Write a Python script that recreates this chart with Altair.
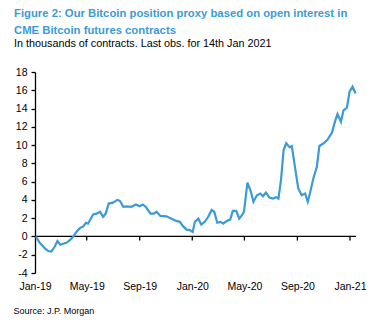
import altair as alt
import pandas as pd

dates = [
    "2019-01-03", "2019-01-12", "2019-01-24", "2019-02-01", "2019-02-08", "2019-02-16",
    "2019-02-22", "2019-03-01", "2019-03-07", "2019-03-15", "2019-03-23", "2019-03-31",
    "2019-04-07", "2019-04-15", "2019-04-23", "2019-04-29", "2019-05-04", "2019-05-11",
    "2019-05-16", "2019-05-24", "2019-06-01", "2019-06-08", "2019-06-14", "2019-06-21",
    "2019-07-01", "2019-07-11", "2019-07-17", "2019-07-25", "2019-08-01", "2019-08-13",
    "2019-08-23", "2019-09-01", "2019-09-08", "2019-09-15", "2019-09-26", "2019-10-04",
    "2019-10-10", "2019-10-19", "2019-11-02", "2019-11-14", "2019-11-25", "2019-12-03",
    "2019-12-11", "2019-12-19", "2019-12-26", "2020-01-02", "2020-01-07", "2020-01-15",
    "2020-01-22", "2020-01-30", "2020-02-07", "2020-02-15", "2020-02-21", "2020-02-28",
    "2020-03-07", "2020-03-13", "2020-03-21", "2020-03-29", "2020-04-04", "2020-04-12",
    "2020-04-19", "2020-04-25", "2020-04-30", "2020-05-08", "2020-05-16", "2020-05-22",
    "2020-05-30", "2020-06-07", "2020-06-13", "2020-06-20", "2020-06-28", "2020-07-06",
    "2020-07-14", "2020-07-19", "2020-07-25", "2020-07-31", "2020-08-06", "2020-08-14",
    "2020-08-19", "2020-08-27", "2020-09-03", "2020-09-11", "2020-09-19", "2020-09-25",
    "2020-09-30", "2020-10-08", "2020-10-16", "2020-10-22", "2020-11-01", "2020-11-10",
    "2020-11-20", "2020-11-28", "2020-12-03", "2020-12-11", "2020-12-17", "2020-12-25",
    "2020-12-31", "2021-01-07", "2021-01-14",
]
values = [
    0.0, -0.7, -1.3, -1.6, -1.65, -1.1,
    -0.5, -0.9, -0.8, -0.7, -0.4, 0.0,
    0.5, 0.9, 1.1, 1.5, 1.4, 2.0,
    2.4, 2.5, 2.7, 2.15, 2.5, 3.6,
    3.7, 4.0, 3.9, 3.25, 3.3, 3.25,
    3.5, 3.3, 3.5, 3.25, 2.5, 2.5,
    2.7, 2.25, 2.2, 1.95, 1.7, 1.6,
    1.1, 0.75, 0.7, 0.5, 1.6, 1.95,
    1.3, 1.6, 2.15, 2.9, 2.7, 1.5,
    1.6, 1.4, 1.7, 1.85, 2.8, 2.8,
    1.95, 2.3, 2.7, 5.9, 4.9, 3.8,
    4.5, 4.7, 4.4, 4.8, 4.25, 4.15,
    4.3, 4.15, 6.2, 9.45, 10.2, 9.75,
    9.9, 7.4, 5.25, 4.5, 4.7, 3.8,
    4.7, 6.35, 7.6, 9.9, 10.2, 10.6,
    11.35, 12.7, 13.4, 12.55, 13.8, 14.1,
    15.85, 16.4, 15.65,
]
tick_dates = ["2019-01-01", "2019-05-01", "2019-09-01", "2020-01-01",
              "2020-05-01", "2020-09-01", "2021-01-01"]
y_ticks = [-4, -2, 0, 2, 4, 6, 8, 10, 12, 14, 16, 18]

title_lines = ["Figure 2: Our Bitcoin position proxy based on open interest in",
               "CME Bitcoin futures contracts"]
subtitle = "In thousands of contracts. Last obs. for 14th Jan 2021"
source = "Source: J.P. Morgan"

df = pd.DataFrame({"date": pd.to_datetime(dates), "value": values})
ticks_df = pd.DataFrame({"date": pd.to_datetime(tick_dates[1:])})

FONT = "Liberation Sans"
BLUE = "#3C9BD6"

x_scale = alt.Scale(domain=[pd.Timestamp("2019-01-01").isoformat(),
                            pd.Timestamp("2021-01-15").isoformat()])
y_scale = alt.Scale(domain=[-4, 18], nice=False, zero=False)

x_axis = alt.Axis(values=[pd.Timestamp(d).isoformat() for d in tick_dates],
                  format="%b-%y", domain=False, ticks=False, tickSize=0,
                  grid=False, labelPadding=8, labelFontSize=10.5,
                  labelFont=FONT, labelColor="#000", labelOverlap=False,
                  labelFlush=False,
                  title=source, titleAnchor="start", titleAlign="left",
                  titleX=-22, titleY=40, titleFontSize=9,
                  titleFontWeight="normal", titleFont=FONT,
                  titleColor="#000", titleBaseline="alphabetic")
y_axis = alt.Axis(values=y_ticks, domainColor="#000", domainWidth=1.3,
                  tickColor="#000", tickSize=4, tickWidth=1.3, grid=False,
                  labelPadding=4, labelFontSize=10.5, labelFont=FONT,
                  labelColor="#000", labelOverlap=False, labelFlush=False,
                  labelExpr="datum.value < 0 ? '-' + abs(datum.value) : '' + datum.value",
                  title=None)

line = alt.Chart(df).mark_line(color=BLUE, strokeWidth=2.2).encode(
    x=alt.X("date:T", scale=x_scale, axis=x_axis),
    y=alt.Y("value:Q", scale=y_scale, axis=y_axis),
)

zero = alt.Chart(pd.DataFrame({"v": [0]})).mark_rule(color="#000", strokeWidth=1.3).encode(
    y=alt.Y("v:Q", scale=y_scale, axis=y_axis)
)

tick_marks = alt.Chart(ticks_df).mark_rule(color="#000", strokeWidth=1.3).encode(
    x=alt.X("date:T", scale=x_scale, axis=x_axis),
    y=alt.YDatum(0, axis=y_axis),
    y2=alt.Y2Datum(-0.45),
)

chart = alt.layer(zero, tick_marks, line).properties(
    width=321,
    height=201,
    padding={"left": 35, "top": 72, "right": 22, "bottom": 52},
    autosize=alt.AutoSizeParams(type="none"),
    title=alt.TitleParams(
        text=title_lines, subtitle=subtitle, anchor="start", frame="group",
        dx=-21, offset=18, font=FONT, fontSize=11.3, fontWeight="bold",
        color=BLUE, lineHeight=16.5, subtitleFont=FONT, subtitleFontSize=10.8,
        subtitleColor="#000", subtitlePadding=2, subtitleLineHeight=13,
    ),
).configure_view(stroke=None)

chart.save("out.html", embed_options={"renderer": "svg", "actions": False})
